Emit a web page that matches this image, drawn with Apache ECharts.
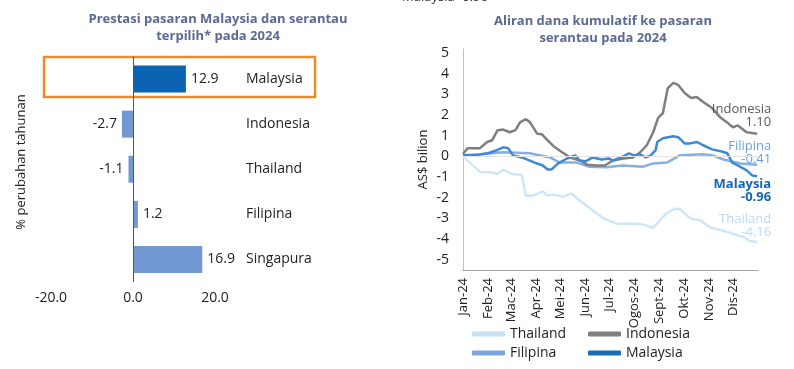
<!DOCTYPE html>
<html><head><meta charset="utf-8">
<script src="https://cdn.jsdelivr.net/npm/echarts@6/dist/echarts.min.js"></script>
<style>html,body{margin:0;padding:0;background:#fff}#c{width:794px;height:369px}</style>
</head><body><div id="c"></div>
<script>
// ---- Left chart data ----
var barCategories = ['Malaysia', 'Indonesia', 'Thailand', 'Filipina', 'Singapura'];
var barValues = [12.9, -2.7, -1.1, 1.2, 16.9];
var barTicks = [-20, 0, 20];

// ---- Right chart data (day of year, cumulative AS$ bn) ----
var monthStarts = [0, 31, 60, 91, 121, 152, 182, 213, 244, 274, 305, 335];
var monthLabels = ['Jan-24', 'Feb-24', 'Mac-24', 'Apr-24', 'Mei-24', 'Jun-24', 'Jul-24', 'Ogos-24', 'Sept-24', 'Okt-24', 'Nov-24', 'Dis-24'];
var yTicks = [-5, -4, -3, -2, -1, 0, 1, 2, 3, 4, 5];

var indonesiaDays = [0, 6, 21, 30, 36, 43, 50, 58, 65, 71, 78, 83, 92, 98, 105, 114, 123, 133, 145, 154, 166, 176, 186, 199, 211, 220, 228, 236, 242, 248, 254, 261, 267, 275, 283, 290, 298, 309, 319, 329, 335, 341, 352, 365];
var indonesiaValues = [0.13, 0.4, 0.4, 0.7, 0.78, 1.27, 1.3, 1.17, 1.27, 1.66, 1.8, 1.66, 1.1, 1.07, 0.78, 0.44, 0.2, -0.05, -0.2, -0.4, -0.44, -0.44, -0.2, -0.1, -0.05, 0.2, 0.54, 1.17, 1.85, 2.1, 3.3, 3.56, 3.46, 3.07, 2.83, 2.88, 2.63, 2.34, 1.9, 1.6, 1.41, 1.5, 1.17, 1.10];

var malaysiaDays = [0, 15, 31, 42, 50, 56, 62, 73, 89, 99, 105, 110, 118, 129, 139, 145, 152, 161, 172, 181, 186, 196, 206, 212, 219, 227, 233, 239, 241, 248, 261, 267, 275, 282, 290, 298, 309, 321, 328, 334, 341, 352, 359, 365];
var malaysiaValues = [0.05, 0.05, 0.15, 0.3, 0.44, 0.4, 0.05, -0.05, -0.3, -0.44, -0.63, -0.63, -0.34, -0.1, 0.05, -0.2, -0.24, -0.05, -0.15, -0.1, -0.2, -0.05, 0.15, 0.05, 0.1, -0.05, 0.05, 0.3, 0.7, 0.88, 0.98, 0.93, 0.63, 0.63, 0.7, 0.54, 0.34, 0.24, 0.15, -0.3, -0.44, -0.68, -0.93, -0.96];

var filipinaDays = [0, 20, 50, 83, 108, 120, 141, 157, 178, 198, 223, 236, 253, 269, 298, 310, 323, 344, 365];
var filipinaValues = [0.05, 0.1, 0.2, 0.15, -0.05, -0.3, -0.3, -0.5, -0.53, -0.44, -0.5, -0.34, -0.3, 0.05, 0.1, 0.05, -0.15, -0.34, -0.41];

var thailandDays = [0, 21, 37, 43, 50, 61, 73, 78, 87, 99, 105, 112, 124, 135, 142, 157, 174, 191, 207, 223, 236, 242, 253, 263, 269, 282, 295, 307, 323, 335, 348, 356, 365];
var thailandValues = [0, -0.75, -0.78, -0.85, -0.65, -0.85, -0.9, -1.9, -1.9, -1.7, -1.9, -1.85, -1.95, -1.8, -2.05, -2.5, -3.0, -3.27, -3.25, -3.3, -3.45, -3.2, -2.73, -2.53, -2.55, -3.0, -3.1, -3.45, -3.6, -3.75, -3.9, -4.1, -4.16];

function pairs(xs, ys) { return xs.map(function (x, i) { return [x, ys[i]]; }); }

var FONT = 'Open Sans';
var TXT = '#222';
var TITLE = '#5a6a92';

var barData = barValues.map(function (v, i) {
  return {
    value: v,
    itemStyle: { color: barCategories[i] === 'Malaysia' ? '#0b63b3' : '#7399d3' },
    label: { position: v < 0 ? 'left' : 'right' }
  };
});

function endLab(color, offY, bold) {
  return {
    show: true, align: 'right', distance: 0, offset: [14, offY],
    fontFamily: FONT, fontSize: 13, lineHeight: 13, color: color, fontWeight: bold ? 'bold' : 'normal',
    formatter: function (p) { return p.seriesName + '\n' + p.value[1].toFixed(2); }
  };
}

var chart = echarts.init(document.getElementById('c'), null, { renderer: 'canvas' });
chart.setOption({
  animation: false,
  textStyle: { fontFamily: FONT },
  title: [
    { text: 'Prestasi pasaran Malaysia dan serantau\nterpilih* pada 2024', left: 213, top: 6, textAlign: 'center',
      textStyle: { fontFamily: FONT, fontSize: 13, fontWeight: 'bold', color: TITLE, lineHeight: 17 } },
    { text: 'Aliran dana kumulatif ke pasaran\nserantau pada 2024', left: 598, top: 8, textAlign: 'center',
      textStyle: { fontFamily: FONT, fontSize: 13, fontWeight: 'bold', color: TITLE, lineHeight: 17 } }
  ],
  grid: [
    { left: 51, top: 56.5, width: 164, height: 225.5 },
    { left: 463, top: 49, width: 295, height: 221 }
  ],
  xAxis: [
    { type: 'value', gridIndex: 0, min: -20, max: 20, interval: 20,
      axisLine: { show: false }, axisTick: { show: false }, splitLine: { show: false },
      axisLabel: { fontSize: 14, color: TXT, margin: 9, fontFamily: FONT, formatter: function (v) { return v.toFixed(1); } } },
    { type: 'value', gridIndex: 1, min: 0, max: 366,
      axisLine: { show: true, onZero: false, lineStyle: { color: '#a6a6a6', width: 1 } },
      axisTick: { show: false }, splitLine: { show: false },
      axisLabel: { customValues: monthStarts, rotate: 90, fontSize: 13, color: TXT, margin: 8, fontFamily: FONT,
        formatter: function (v) { var i = monthStarts.indexOf(v); return i >= 0 ? monthLabels[i] : ''; } } }
  ],
  yAxis: [
    { type: 'category', gridIndex: 0, data: barCategories, inverse: true, position: 'right',
      axisLine: { show: false, onZero: false }, axisTick: { show: false },
      axisLabel: { align: 'left', margin: 31, fontSize: 14, color: TXT, fontFamily: FONT } },
    { type: 'value', gridIndex: 1, min: -5.5, max: 5.2,
      name: 'AS$ bilion', nameLocation: 'middle', nameGap: 33, nameRotate: 90,
      nameTextStyle: { fontSize: 13, color: TXT, fontFamily: FONT },
      axisLine: { show: true, lineStyle: { color: '#bfbfbf', width: 1 } },
      axisTick: { show: false }, splitLine: { show: false },
      axisLabel: { customValues: yTicks, fontSize: 14, color: TXT, margin: 14, fontFamily: FONT } }
  ],
  legend: [
    { orient: 'vertical', left: 467, top: 322, itemWidth: 33, itemHeight: 5, itemGap: 5, icon: 'roundRect',
      textStyle: { fontSize: 14, color: TXT, fontFamily: FONT },
      data: [{ name: 'Thailand', itemStyle: { color: '#c6e2f7' } }, { name: 'Filipina', itemStyle: { color: '#7aa6dc' } }] },
    { orient: 'vertical', left: 583, top: 322, itemWidth: 33, itemHeight: 5, itemGap: 5, icon: 'roundRect',
      textStyle: { fontSize: 14, color: TXT, fontFamily: FONT },
      data: [{ name: 'Indonesia', itemStyle: { color: '#7f7f7f' } }, { name: 'Malaysia', itemStyle: { color: '#1a6cb5' } }] }
  ],
  series: [
    { type: 'bar', xAxisIndex: 0, yAxisIndex: 0, data: barData, barWidth: 27,
      label: { show: true, distance: 5, fontSize: 14, color: TXT, fontFamily: FONT, formatter: function (p) { return p.value.toFixed(1); } },
      markLine: { silent: true, symbol: 'none', label: { show: false },
        lineStyle: { color: '#555', width: 1, type: 'solid' }, data: [{ xAxis: 0 }] } },
    { name: 'Thailand', type: 'line', xAxisIndex: 1, yAxisIndex: 1, data: pairs(thailandDays, thailandValues),
      showSymbol: false, lineStyle: { color: '#cfe6f8', width: 2.5 }, itemStyle: { color: '#cfe6f8' },
      endLabel: endLab('#b8daf4', -17, false),
      markLine: { silent: true, symbol: 'none', label: { show: false },
        lineStyle: { color: '#e3e3e3', width: 1, type: 'solid' }, data: [{ yAxis: 0 }] } },
    { name: 'Filipina', type: 'line', xAxisIndex: 1, yAxisIndex: 1, data: pairs(filipinaDays, filipinaValues),
      showSymbol: false, lineStyle: { color: '#86afe2', width: 2.5 }, itemStyle: { color: '#86afe2' },
      endLabel: endLab('#6f9fdb', -12, false) },
    { name: 'Indonesia', type: 'line', xAxisIndex: 1, yAxisIndex: 1, data: pairs(indonesiaDays, indonesiaValues),
      showSymbol: false, lineStyle: { color: '#7f7f7f', width: 2.5 }, itemStyle: { color: '#7f7f7f' },
      endLabel: endLab('#595959', -18, false) },
    { name: 'Malaysia', type: 'line', xAxisIndex: 1, yAxisIndex: 1, data: pairs(malaysiaDays, malaysiaValues),
      showSymbol: false, lineStyle: { color: '#3f88d3', width: 2.5 }, itemStyle: { color: '#3f88d3' },
      endLabel: endLab('#1565b0', 15, true) }
  ],
  graphic: [
    { type: 'rect', shape: { x: 44, y: 57, width: 271, height: 40 }, silent: true,
      style: { fill: 'none', stroke: '#f08a24', lineWidth: 2.5 } },
    { type: 'text', rotation: Math.PI / 2, x: 21, y: 162, silent: true,
      style: { text: '% perubahan tahunan', fontSize: 13, fontFamily: FONT, fill: TXT, align: 'center', verticalAlign: 'middle' } },
    { type: 'text', x: 402, y: -9, silent: true,
      style: { text: 'Malaysia -0.96', fontSize: 13, fontFamily: FONT, fill: '#333' } }
  ]
});
</script>
</body></html>
